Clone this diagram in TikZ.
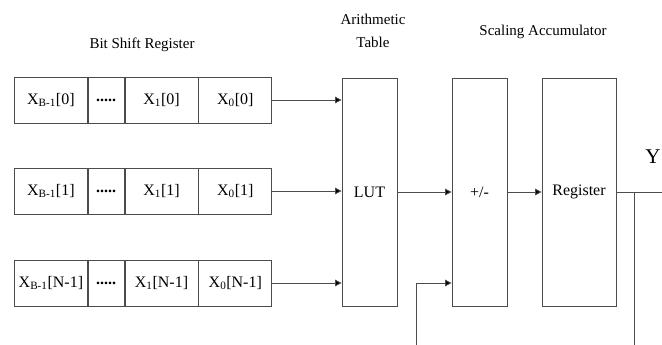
\documentclass[tikz,border=0pt]{standalone}
\usepackage{fontspec}
\setmainfont{Liberation Serif}
\usetikzlibrary{positioning, arrows.meta}

\tikzset{
    txt/.style={font=\fontsize{15}{23}\selectfont},
    cell/.style={draw=black!70, line width=0.8pt, font=\fontsize{16}{19}\selectfont, minimum height=46, inner sep=0pt},
    tall/.style={draw=black!70, line width=0.8pt, font=\fontsize{16}{19}\selectfont, minimum height=228, inner sep=0pt},
    wire/.style={draw=black!70, line width=0.8pt},
    arr/.style={wire, -{Triangle[length=6.5pt, width=6.5pt, fill=black]}}
}

\begin{document}
\begin{tikzpicture}[x=1pt, y=-1pt]
    \useasboundingbox (0,0) rectangle (662,345);

    % Titles
    \node[txt] (ttlreg) at (142,45) {Bit Shift Register};
    \node[txt, align=center] (ttllut) at (373,31) {Arithmetic\\Table};
    \node[txt] (ttlacc) at (543,32) {Scaling Accumulator};

    % Shift register rows
    \node[cell, minimum width=73, anchor=west] (xb0) at (14,100) {X\textsubscript{B-1}[0]};
    \node[cell, minimum width=36, right=0pt of xb0] (dt0) {\textbf{.....}};
    \node[cell, minimum width=73, right=0pt of dt0] (xa0) {X\textsubscript{1}[0]};
    \node[cell, minimum width=73, right=0pt of xa0] (xz0) {X\textsubscript{0}[0]};

    \node[cell, minimum width=73, anchor=west] (xb1) at (14,191) {X\textsubscript{B-1}[1]};
    \node[cell, minimum width=36, right=0pt of xb1] (dt1) {\textbf{.....}};
    \node[cell, minimum width=73, right=0pt of dt1] (xa1) {X\textsubscript{1}[1]};
    \node[cell, minimum width=73, right=0pt of xa1] (xz1) {X\textsubscript{0}[1]};

    \node[cell, minimum width=73, anchor=west] (xb2) at (14,283) {X\textsubscript{B-1}[N-1]};
    \node[cell, minimum width=36, right=0pt of xb2] (dt2) {\textbf{.....}};
    \node[cell, minimum width=73, right=0pt of dt2] (xa2) {X\textsubscript{1}[N-1]};
    \node[cell, minimum width=73, right=0pt of xa2] (xz2) {X\textsubscript{0}[N-1]};

    % Blocks
    \node[tall, minimum width=55] (lut) at (369.5,192) {LUT};
    \node[tall, minimum width=55] (pm) at (479.5,192) {+/-};
    \node[tall, minimum width=74] (reg) at (579,192) {Register};

    % Inputs to LUT
    \draw[arr] (xz0.east) -- (xz0.east -| lut.west);
    \draw[arr] (xz1.east) -- (xz1.east -| lut.west);
    \draw[arr] (xz2.east) -- (xz2.east -| lut.west);

    % Accumulator path
    \draw[arr] (lut.east) -- (pm.west);
    \draw[arr] (pm.east) -- (reg.west);
    \coordinate (yend) at (662,192);
    \coordinate (tap) at (634,192);
    \coordinate (tapend) at (634,345);
    \coordinate (fbin) at (416,345);
    \draw[wire] (reg.east) -- (yend);
    \draw[wire] (tap) -- (tapend);
    \draw[arr] (fbin) |- (xz2.east -| pm.west);
    \node[font=\fontsize{21}{24}\selectfont] (ylab) at (653,157) {Y};
\end{tikzpicture}
\end{document}
